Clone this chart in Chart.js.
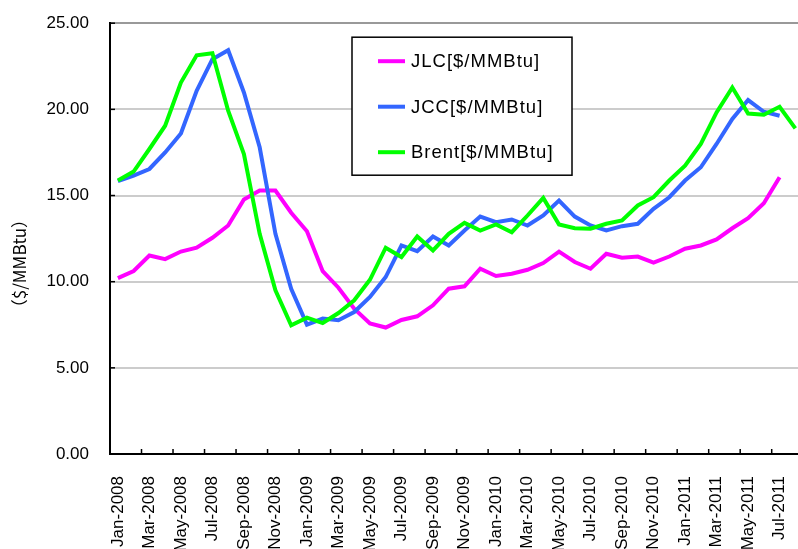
<!DOCTYPE html>
<html>
<head>
<meta charset="utf-8">
<script src="https://cdn.jsdelivr.net/npm/chart.js@4/dist/chart.umd.min.js"></script>
<style>
  html, body { margin: 0; padding: 0; background: #fff; overflow: hidden; }
  #wrap { position: absolute; left: 0; top: -8px; width: 830px; height: 557px; }
</style>
</head>
<body>
<div id="wrap"><canvas id="chart" width="830" height="557"></canvas></div>
<script>
const categories = [
  'Jan-2008', 'Feb-2008', 'Mar-2008', 'Apr-2008', 'May-2008', 'Jun-2008', 'Jul-2008', 'Aug-2008', 'Sep-2008', 'Oct-2008', 'Nov-2008', 'Dec-2008',
  'Jan-2009', 'Feb-2009', 'Mar-2009', 'Apr-2009', 'May-2009', 'Jun-2009', 'Jul-2009', 'Aug-2009', 'Sep-2009', 'Oct-2009', 'Nov-2009', 'Dec-2009',
  'Jan-2010', 'Feb-2010', 'Mar-2010', 'Apr-2010', 'May-2010', 'Jun-2010', 'Jul-2010', 'Aug-2010', 'Sep-2010', 'Oct-2010', 'Nov-2010', 'Dec-2010',
  'Jan-2011', 'Feb-2011', 'Mar-2011', 'Apr-2011', 'May-2011', 'Jun-2011', 'Jul-2011', 'Aug-2011',
];

const jlc = [
  10.21, 10.62, 11.52, 11.31, 11.75, 11.97, 12.55, 13.26, 14.77, 15.29, 15.29, 14.0,
  12.93, 10.61, 9.65, 8.43, 7.57, 7.34, 7.78, 7.99, 8.63, 9.59, 9.73, 10.75,
  10.33, 10.46, 10.69, 11.08, 11.74, 11.14, 10.75, 11.62, 11.39, 11.46, 11.1, 11.46,
  11.91, 12.1, 12.45, 13.1, 13.68, 14.55, 16.06, null,
];

const jcc = [
  15.83, 16.16, 16.54, 17.5, 18.6, 21.08, 22.91, 23.43, 20.98, 17.8, 12.78, 9.59,
  7.51, 7.86, 7.76, 8.24, 9.11, 10.27, 12.1, 11.77, 12.62, 12.1, 12.97, 13.78,
  13.45, 13.61, 13.26, 13.84, 14.71, 13.78, 13.26, 12.97, 13.22, 13.36, 14.23, 14.9,
  15.87, 16.64, 17.99, 19.44, 20.54, 19.86, 19.63, null,
];

const brent = [
  15.87, 16.39, 17.7, 19.05, 21.56, 23.14, 23.26, 19.92, 17.41, 12.78, 9.5, 7.47,
  7.91, 7.6, 8.18, 8.92, 10.11, 11.97, 11.43, 12.62, 11.81, 12.78, 13.41, 12.97,
  13.32, 12.87, 13.84, 14.86, 13.32, 13.1, 13.07, 13.36, 13.55, 14.42, 14.9, 15.87,
  16.73, 17.99, 19.82, 21.27, 19.76, 19.69, 20.15, 18.9,
];

const seriesLabels = ['JLC[$/MMBtu]', 'JCC[$/MMBtu]', 'Brent[$/MMBtu]'];
const seriesColors = ['#ff00ff', '#3366ff', '#00ff00'];
const yTitle = '（$/MMBtu）';

const FONT = '"Liberation Sans", Arial, sans-serif';
Chart.defaults.font.family = FONT;
Chart.defaults.color = '#000';

// legend box, inside tick marks and the y title
const overlay = {
  id: 'overlay',
  afterDraw(chart) {
    const { ctx, chartArea, scales } = chart;
    const x = scales.x;
    const y = scales.y;
    ctx.save();

    ctx.strokeStyle = '#000';
    ctx.lineWidth = 1.5;
    const half = (x.getPixelForValue(1) - x.getPixelForValue(0)) / 2;
    for (let i = 2; i <= categories.length; i += 2) {
      const px = x.getPixelForValue(i) - half;
      ctx.beginPath();
      ctx.moveTo(px, chartArea.bottom);
      ctx.lineTo(px, chartArea.bottom - 5);
      ctx.stroke();
    }
    y.ticks.forEach(t => {
      const py = y.getPixelForValue(t.value);
      ctx.beginPath();
      ctx.moveTo(chartArea.left, py);
      ctx.lineTo(chartArea.left + 5, py);
      ctx.stroke();
    });

    // y title
    ctx.fillStyle = '#000';
    ctx.font = '17px "Noto Sans CJK JP", ' + FONT;
    ctx.textAlign = 'center';
    ctx.textBaseline = 'middle';
    ctx.translate(chartArea.left - 90, (chartArea.top + chartArea.bottom) / 2 + 25);
    ctx.rotate(-Math.PI / 2);
    ctx.fillText(yTitle, 0, 0);
    ctx.restore();

    // legend
    ctx.save();
    const bx = chartArea.left + 242;
    const by = chartArea.top + 14;
    ctx.fillStyle = '#fff';
    ctx.fillRect(bx, by, 220, 138);
    ctx.strokeStyle = '#000';
    ctx.lineWidth = 1.5;
    ctx.strokeRect(bx, by, 220, 138);
    ctx.font = '18.5px ' + FONT;
    ctx.letterSpacing = '1px';
    ctx.textAlign = 'left';
    ctx.textBaseline = 'middle';
    chart.data.datasets.forEach((ds, i) => {
      const ry = by + 24 + i * 45.5;
      ctx.strokeStyle = ds.borderColor;
      ctx.lineWidth = 4;
      ctx.beginPath();
      ctx.moveTo(bx + 26, ry);
      ctx.lineTo(bx + 53, ry);
      ctx.stroke();
      ctx.fillStyle = '#000';
      ctx.fillText(ds.label, bx + 59, ry + 1);
    });
    ctx.restore();
  },
};

function makeDataset(label, data, color, order) {
  return {
    label,
    data,
    borderColor: color,
    backgroundColor: color,
    borderWidth: 4,
    pointRadius: 0,
    tension: 0,
    fill: false,
    order,
  };
}

new Chart(document.getElementById('chart').getContext('2d'), {
  type: 'line',
  data: {
    labels: categories,
    datasets: [
      makeDataset(seriesLabels[0], jlc, seriesColors[0], 3),
      makeDataset(seriesLabels[1], jcc, seriesColors[1], 2),
      makeDataset(seriesLabels[2], brent, seriesColors[2], 1),
    ],
  },
  options: {
    responsive: false,
    animation: false,
    devicePixelRatio: 1,
    layout: { padding: { top: 14, right: 23, left: 0, bottom: 0 } },
    plugins: {
      legend: { display: false },
      tooltip: { enabled: false },
    },
    scales: {
      x: {
        offset: true,
        grid: { display: false },
        border: { color: '#000', width: 2 },
        ticks: {
          autoSkip: false,
          maxRotation: 90,
          minRotation: 90,
          padding: 14,
          font: { size: 17 },
          callback: (v, i) => (i % 2 === 0 ? categories[i] : ''),
        },
        afterFit: scale => { scale.height = 95; },
      },
      y: {
        min: 0,
        max: 25,
        grid: {
          drawTicks: false,
          lineWidth: 2,
          color: c => (c.tick && c.tick.value === 25 ? '#999999' : '#cccccc'),
        },
        border: { color: '#000', width: 2 },
        ticks: {
          stepSize: 5,
          padding: 21,
          font: { size: 17 },
          callback: v => v.toFixed(2),
        },
        afterFit: scale => { scale.width = 110; },
      },
    },
  },
  plugins: [overlay],
});
</script>
</body>
</html>
